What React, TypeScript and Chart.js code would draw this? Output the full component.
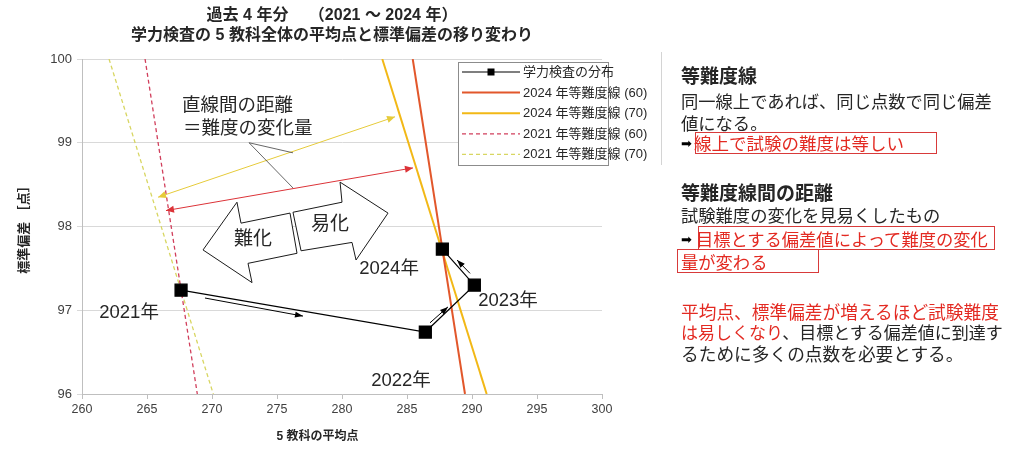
import React, { useEffect, useRef } from 'react';
import { Chart, registerables } from 'chart.js';

Chart.register(...registerables);

const FONT = '"Liberation Sans", "Noto Sans CJK JP", sans-serif';
const JP = '"Noto Sans CJK JP", "Liberation Sans", sans-serif';

// ---- data ----
const years = ['2021年', '2022年', '2023年', '2024年'];
const avgScores = [267.62, 286.41, 290.18, 287.72];
const stdDevs = [97.24, 96.74, 97.3, 97.73];
const isoSdRange = [100, 96];
const iso2024_60 = [285.44, 289.46];
const iso2024_70 = [283.1, 291.13];
const iso2021_60 = [264.85, 268.87];
const iso2021_70 = [262.08, 270.1];
const seriesNames = [
  '学力検査の分布',
  '2024 年等難度線 (60)',
  '2024 年等難度線 (70)',
  '2021 年等難度線 (60)',
  '2021 年等難度線 (70)',
];
const xMin = 260, xMax = 300, xStep = 5;
const yMin = 96, yMax = 100, yStep = 1;
const titleLines = ['過去 4 年分　 （2021 ～ 2024 年）', '学力検査の 5 教科全体の平均点と標準偏差の移り変わり'];
const xTitle = '5 教科の平均点';
const yTitle = '標準偏差 ［点］';

// ---- annotation placement (data coordinates) ----
const yearLabelPos: [number, number][] = [[263.62, 96.97], [284.54, 96.16], [292.77, 97.11], [283.62, 97.49]];
const noteLines = ['直線間の距離', '＝難度の変化量'];
const notePos: [number, number][] = [[267.69, 99.46], [267.77, 99.19]];
const yellowArrow: [number, number][] = [[265.85, 98.35], [284.08, 99.31]];
const redArrow: [number, number][] = [[266.46, 98.19], [285.46, 98.7]];
const calloutFrom: [number, number] = [272.85, 99.0];
const calloutTo: [number, number][] = [[276.23, 98.88], [276.23, 98.46]];
const hardArrow: [number, number][] = [[269.31, 97.72], [271.92, 98.29], [272.23, 98.04], [276.0, 98.16], [276.54, 97.68], [272.77, 97.56], [273.08, 97.33]];
const easyArrow: [number, number][] = [[276.23, 98.17], [280.0, 98.29], [279.85, 98.53], [283.54, 98.16], [281.08, 97.6], [280.77, 97.81], [276.85, 97.71]];
const hardLabel: [number, number] = [273.15, 97.86];
const easyLabel: [number, number] = [279.08, 98.05];
const pathArrows: [number, number][][] = [
  [[269.46, 97.146], [277.0, 96.93]],
  [[286.77, 96.85], [288.15, 97.04]],
  [[289.85, 97.44], [288.85, 97.6]],
];

const COLORS = {
  dist: '#000000',
  l2024_60: '#E2572B',
  l2024_70: '#F2B816',
  l2021_60: '#D13F5C',
  l2021_70: '#D8D662',
  text: '#262626',
};

function arrowHead(ctx: CanvasRenderingContext2D, from: number[], to: number[], len: number, half: number, color: string) {
  const a = Math.atan2(to[1] - from[1], to[0] - from[0]);
  const bx = to[0] - len * Math.cos(a);
  const by = to[1] - len * Math.sin(a);
  ctx.beginPath();
  ctx.moveTo(to[0], to[1]);
  ctx.lineTo(bx + half * Math.sin(a), by - half * Math.cos(a));
  ctx.lineTo(bx - half * Math.sin(a), by + half * Math.cos(a));
  ctx.closePath();
  ctx.fillStyle = color;
  ctx.fill();
}

const annotationPlugin = {
  id: 'annotations',
  afterDatasetsDraw(chart: any) {
    const { ctx, scales } = chart;
    const xs = scales.x, ys = scales.y;
    const P = (p: number[]) => [xs.getPixelForValue(p[0]), ys.getPixelForValue(p[1])];
    ctx.save();

    const dbl = (pts: number[][], color: string) => {
      const a = P(pts[0]), b = P(pts[1]);
      ctx.strokeStyle = color;
      ctx.lineWidth = 1;
      ctx.beginPath();
      ctx.moveTo(a[0], a[1]);
      ctx.lineTo(b[0], b[1]);
      ctx.stroke();
      arrowHead(ctx, b, a, 8, 3.5, color);
      arrowHead(ctx, a, b, 8, 3.5, color);
    };
    dbl(yellowArrow, '#E6CB3A');
    dbl(redArrow, '#DC3338');

    ctx.strokeStyle = '#404040';
    ctx.lineWidth = 0.8;
    const c0 = P(calloutFrom);
    calloutTo.forEach((t) => {
      const c1 = P(t);
      ctx.beginPath();
      ctx.moveTo(c0[0], c0[1]);
      ctx.lineTo(c1[0], c1[1]);
      ctx.stroke();
    });

    const block = (pts: number[][]) => {
      ctx.beginPath();
      pts.forEach((p, i) => {
        const q = P(p);
        if (i === 0) ctx.moveTo(q[0], q[1]);
        else ctx.lineTo(q[0], q[1]);
      });
      ctx.closePath();
      ctx.fillStyle = '#ffffff';
      ctx.fill();
      ctx.strokeStyle = '#1a1a1a';
      ctx.lineWidth = 1;
      ctx.stroke();
    };
    block(hardArrow);
    block(easyArrow);

    ctx.fillStyle = COLORS.text;
    ctx.textBaseline = 'middle';
    ctx.textAlign = 'center';
    ctx.font = `19px ${JP}`;
    let q = P(hardLabel);
    ctx.fillText('難化', q[0], q[1]);
    q = P(easyLabel);
    ctx.fillText('易化', q[0], q[1]);

    ctx.textAlign = 'left';
    ctx.font = `18.5px ${JP}`;
    noteLines.forEach((t, i) => {
      const p = P(notePos[i]);
      ctx.fillText(t, p[0], p[1]);
    });

    ctx.textAlign = 'center';
    ctx.font = `18.5px ${FONT}`;
    years.forEach((t, i) => {
      const p = P(yearLabelPos[i]);
      ctx.fillText(t, p[0], p[1]);
    });

    ctx.strokeStyle = '#000';
    ctx.lineWidth = 1;
    pathArrows.forEach((seg) => {
      const a = P(seg[0]), b = P(seg[1]);
      ctx.beginPath();
      ctx.moveTo(a[0], a[1]);
      ctx.lineTo(b[0], b[1]);
      ctx.stroke();
      arrowHead(ctx, a, b, 8, 3, '#000');
    });

    ctx.restore();
  },
  afterDraw(chart: any) {
    const { ctx, chartArea } = chart;
    ctx.save();
    ctx.fillStyle = COLORS.text;
    ctx.font = `bold 12px ${FONT}`;
    ctx.textAlign = 'center';
    ctx.textBaseline = 'middle';
    ctx.fillText(xTitle, chartArea.left + (chartArea.right - chartArea.left) * 0.453, chartArea.bottom + 43);

    const L = chartArea.right - 144, T = chartArea.top + 3, W = 150, H = 103;
    ctx.fillStyle = '#fff';
    ctx.fillRect(L, T, W, H);
    ctx.strokeStyle = '#8c8c8c';
    ctx.lineWidth = 1;
    ctx.strokeRect(L + 0.5, T + 0.5, W, H);
    ctx.font = `13px ${FONT}`;
    ctx.textAlign = 'left';
    chart.data.datasets.forEach((ds: any, i: number) => {
      const yy = T + 10 + i * 20.6;
      ctx.strokeStyle = ds.borderColor;
      ctx.lineWidth = ds.borderWidth;
      ctx.setLineDash(ds.borderDash || []);
      ctx.beginPath();
      ctx.moveTo(L + 4, yy);
      ctx.lineTo(L + 62, yy);
      ctx.stroke();
      ctx.setLineDash([]);
      if (i === 0) {
        ctx.fillStyle = '#000';
        ctx.fillRect(L + 29.5, yy - 3.5, 7, 7);
      }
      ctx.fillStyle = COLORS.text;
      ctx.fillText(ds.label, L + 65, yy + 0.5);
    });
    ctx.restore();
  },
};

function lineData(xs: number[]) {
  return xs.map((v, i) => ({ x: v, y: isoSdRange[i] }));
}

export default function App() {
  const ref = useRef<HTMLCanvasElement>(null);

  useEffect(() => {
    const chart = new Chart(ref.current as HTMLCanvasElement, {
      type: 'scatter',
      data: {
        datasets: [
          {
            label: seriesNames[0],
            data: avgScores.map((v, i) => ({ x: v, y: stdDevs[i] })),
            showLine: true,
            borderColor: COLORS.dist,
            backgroundColor: COLORS.dist,
            borderWidth: 1.2,
            pointStyle: 'rect',
            pointRadius: 8.5,
            pointHoverRadius: 8.5,
          },
          { label: seriesNames[1], data: lineData(iso2024_60), showLine: true, borderColor: COLORS.l2024_60, borderWidth: 2, pointRadius: 0 },
          { label: seriesNames[2], data: lineData(iso2024_70), showLine: true, borderColor: COLORS.l2024_70, borderWidth: 2, pointRadius: 0 },
          { label: seriesNames[3], data: lineData(iso2021_60), showLine: true, borderColor: COLORS.l2021_60, borderWidth: 1.3, borderDash: [4, 3], pointRadius: 0 },
          { label: seriesNames[4], data: lineData(iso2021_70), showLine: true, borderColor: COLORS.l2021_70, borderWidth: 1.3, borderDash: [4, 3], pointRadius: 0 },
        ] as any,
      },
      options: {
        responsive: false,
        animation: false,
        events: [],
        layout: { padding: 0 },
        plugins: {
          legend: { display: false },
          tooltip: { enabled: false },
          title: {
            display: true,
            text: titleLines,
            color: COLORS.text,
            font: { family: FONT, size: 16, weight: 'bold', lineHeight: 1.25 },
            padding: { top: 6, bottom: 13 },
          },
        },
        scales: {
          x: {
            type: 'linear',
            min: xMin,
            max: xMax,
            ticks: { stepSize: xStep, color: '#404040', font: { family: FONT, size: 12.5 }, padding: 3 },
            grid: { drawOnChartArea: false, drawTicks: true, tickLength: 5, color: '#bfbfbf' },
            border: { color: '#bfbfbf' },
            afterFit: (s: any) => { s.height = 58; },
          },
          y: {
            type: 'linear',
            min: yMin,
            max: yMax,
            ticks: { stepSize: yStep, color: '#404040', font: { family: FONT, size: 13 }, padding: 5 },
            grid: { color: '#d9d9d9', tickLength: 5 },
            border: { color: '#bfbfbf' },
            title: {
              display: true,
              text: yTitle,
              color: COLORS.text,
              font: { family: FONT, size: 13, weight: 'bold' },
              padding: { top: 17, bottom: 0 },
            },
            afterFit: (s: any) => { s.width = 82; },
          },
          yRightSpace: {
            type: 'linear',
            position: 'right',
            min: yMin,
            max: yMax,
            display: true,
            ticks: { display: false },
            grid: { display: false, drawTicks: false },
            border: { display: false },
            afterFit: (s: any) => { s.width = 62; },
          },
        },
      } as any,
      plugins: [annotationPlugin],
    });
    return () => chart.destroy();
  }, []);

  const red = '#E32A22';
  const boxBorder = '1.5px solid #D83A3A';
  const line = (top: number, left: number, size: number, content: React.ReactNode, bold = false) => (
    <div
      style={{
        position: 'absolute',
        top: top - 12,
        left,
        height: 24,
        lineHeight: '24px',
        fontSize: size,
        fontWeight: bold ? 700 : 400,
        whiteSpace: 'nowrap',
        color: COLORS.text,
      }}
    >
      {content}
    </div>
  );
  const arrow = <span style={{ fontFamily: '"DejaVu Sans", sans-serif', fontSize: 13, color: '#000', verticalAlign: 'middle', position: 'relative', top: -1 }}>➡</span>;

  return (
    <div style={{ position: 'absolute', left: 0, top: 0, width: 1024, height: 452, background: '#fff', overflow: 'hidden', fontFamily: JP }}>
      <canvas ref={ref} width={664} height={452} style={{ position: 'absolute', left: 0, top: 0 }} />
      <div style={{ position: 'absolute', left: 661, top: 52, width: 1, height: 113, background: '#d4d4d4' }} />
      <div style={{ position: 'absolute', left: 695, top: 132, width: 242, height: 22, border: boxBorder, boxSizing: 'border-box' }} />
      <div style={{ position: 'absolute', left: 698, top: 226, width: 297, height: 24, border: boxBorder, boxSizing: 'border-box' }} />
      <div style={{ position: 'absolute', left: 677, top: 249, width: 142, height: 24, border: boxBorder, boxSizing: 'border-box' }} />

      {line(75, 681, 19, '等難度線', true)}
      {line(101, 681, 17.3, '同一線上であれば、同じ点数で同じ偏差')}
      {line(123, 681, 17.3, '値になる。')}
      {line(143, 681, 17.5, <>{arrow}<span style={{ color: red, marginLeft: 2 }}>線上で試験の難度は等しい</span></>)}
      {line(192, 681, 19, '等難度線間の距離', true)}
      {line(215, 681, 17.3, '試験難度の変化を見易くしたもの')}
      {line(239, 681, 17.3, <>{arrow}<span style={{ color: red, marginLeft: 4 }}>目標とする偏差値によって難度の変化</span></>)}
      {line(262, 681, 17.3, <span style={{ color: red }}>量が変わる</span>)}
      {line(311, 681, 17.7, <span style={{ color: red }}>平均点、標準偏差が増えるほど試験難度</span>)}
      {line(332, 681, 17, <><span style={{ color: red }}>は易しくなり</span>、目標とする偏差値に到達す</>)}
      {line(353, 681, 17.7, 'るために多くの点数を必要とする。')}
    </div>
  );
}
